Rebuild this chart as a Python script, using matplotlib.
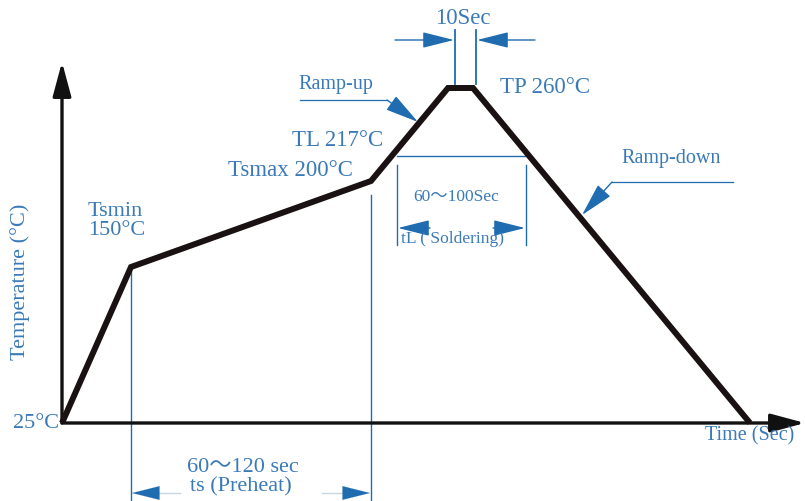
import matplotlib
matplotlib.use("Agg")
import matplotlib.pyplot as plt

# Reflow profile (schematic, not to scale): x = time position, y = height on the drawing
profile_t = [62, 131, 371, 448, 473, 750]
profile_y = [423, 267, 181, 88, 88, 423]

temp_labels = ["Tsmin\n150°C", "Tsmax 200°C", "TL 217°C", "TP 260°C"]
preheat_text = ["60～120 sec", "ts (Preheat)"]
liquidus_text = ["60～100Sec", "tL ( Soldering)"]
peak_text = "10Sec"

BLUE = "#1f6cb0"
TXT = "#3a7ab8"
FONT = ["Liberation Serif", "Noto Sans CJK SC", "DejaVu Serif"]

plt.rcParams["font.family"] = FONT

fig = plt.figure(figsize=(8.05, 5.01), dpi=100)
ax = fig.add_axes([0, 0, 1, 1])
ax.set_xlim(0, 805)
ax.set_ylim(501, 0)
ax.axis("off")


def arrow(x0, y0, x1, y1, color=BLUE, lw=1.0, hl=1.4, hw=0.35, ms=14, hc=None):
    ax.annotate("", xy=(x1, y1), xytext=(x0, y0),
                arrowprops=dict(arrowstyle=f"-|>,head_length={hl},head_width={hw}",
                                color=color, lw=lw, mutation_scale=ms,
                                fc=hc or color, shrinkA=0, shrinkB=0))


# axes with arrow heads
arrow(62, 423, 62, 62, color="#111111", lw=2.4, hl=1.3, hw=0.35, ms=16)
arrow(62, 423, 805, 423, color="#111111", lw=2.4, hl=1.3, hw=0.35, ms=16)

# profile
ax.plot(profile_t, profile_y, color="#1a1212", lw=4.3, solid_joinstyle="miter",
        solid_capstyle="butt", zorder=5)

# preheat window
ax.plot([131, 131], [272, 501], color=BLUE, lw=1.0)
ax.plot([371, 371], [195, 501], color=BLUE, lw=1.0)
ax.plot([155, 180], [493, 493], color="#c9d6e0", lw=1.0)
ax.plot([322, 345], [493, 493], color="#c9d6e0", lw=1.0)
arrow(156, 493, 132, 493, lw=0.1)
arrow(346, 493, 370, 493, lw=0.1)
ax.text(243, 467, preheat_text[0], color=TXT, fontsize=16, ha="center", va="center")
ax.text(241, 487, preheat_text[1], color=TXT, fontsize=16, ha="center", va="center")

# liquidus window
ax.plot([397, 527], [156, 156], color=BLUE, lw=1.0)
ax.plot([397, 397], [165, 245], color=BLUE, lw=1.0)
ax.plot([526, 526], [165, 245], color=BLUE, lw=1.0)
arrow(430, 228, 398, 228)
arrow(493, 228, 525, 228)
ax.text(456, 197, liquidus_text[0], color=TXT, fontsize=12.5, ha="center", va="center")
ax.text(452, 239, liquidus_text[1], color=TXT, fontsize=12.5, ha="center", va="center")

# peak time
ax.plot([455, 455], [30, 84], color=BLUE, lw=1.3)
ax.plot([476, 476], [30, 84], color=BLUE, lw=1.3)
arrow(395, 40, 454, 40)
arrow(535, 40, 477, 40)
ax.text(463, 18, peak_text, color=TXT, fontsize=16.5, ha="center", va="center")

# temperature labels
ax.text(88, 221, temp_labels[0], color=TXT, fontsize=16, ha="left", va="center",
        linespacing=0.95)
ax.text(228, 171, temp_labels[1], color=TXT, fontsize=16.5, ha="left", va="center")
ax.text(292, 140, temp_labels[2], color=TXT, fontsize=16.5, ha="left", va="center")
ax.text(500, 87, temp_labels[3], color=TXT, fontsize=16.5, ha="left", va="center")
ax.text(59, 423, "25°C", color=TXT, fontsize=16, ha="right", va="center")

# ramp labels with leaders
ax.text(336, 84, "Ramp-up", color=TXT, fontsize=14.5, ha="center", va="center")
ax.plot([300, 387], [100, 100], color=BLUE, lw=0.9)
arrow(387, 100, 418, 122, ms=15)
ax.text(671, 158, "Ramp-down", color=TXT, fontsize=14.5, ha="center", va="center")
ax.plot([733, 612], [182, 182], color=BLUE, lw=0.9)
arrow(612, 182, 582, 215, ms=15)

# axis titles
ax.text(20, 282, "Temperature (°C)", color=TXT, fontsize=16, rotation=90,
        ha="center", va="center")
ax.text(750, 436, "Time (Sec)", color=TXT, fontsize=14.5, ha="center", va="center")

fig.savefig("out.png", dpi=100)
